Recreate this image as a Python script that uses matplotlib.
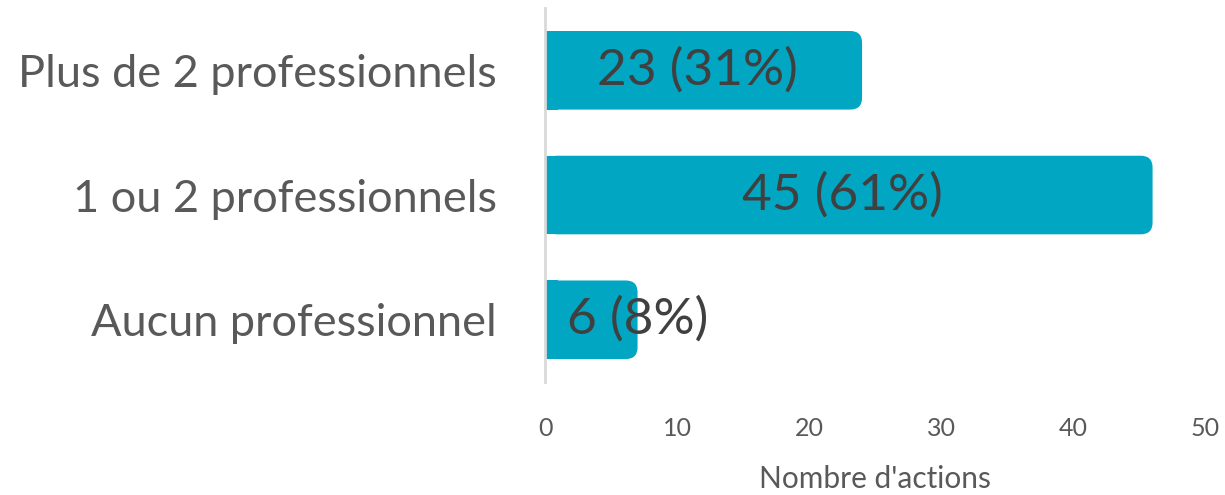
import matplotlib
matplotlib.use("Agg")
import matplotlib.pyplot as plt
from matplotlib.patches import FancyBboxPatch

# data
categories = ["Plus de 2 professionnels", "1 ou 2 professionnels", "Aucun professionnel"]
counts = [23, 45, 6]
percents = [31, 61, 8]

bar_color = "#00A6C2"
text_color = "#404040"
tick_color = "#595959"

plt.rcParams["font.family"] = ["Lato", "DejaVu Sans"]

fig = plt.figure(figsize=(12.25, 4.95), dpi=100)
ax = fig.add_axes([0.445, 0.228, 0.539, 0.756])

ypos = list(range(len(categories)))[::-1]
bar_h = 0.63
cap = 1.0  # rounded end sticks out a bit past the value

for y, v, p in zip(ypos, counts, percents):
    bb = FancyBboxPatch((0, y - bar_h / 2), v + cap, bar_h,
                        boxstyle="round,pad=0,rounding_size=0.9",
                        mutation_aspect=0.105,
                        facecolor=bar_color, edgecolor="none")
    ax.add_patch(bb)
    # square off the left side
    ax.barh(y, 1.0, height=bar_h, left=0, color=bar_color)
    lab = f"{v} ({p}%)"
    if v > 10:
        ax.text(v / 2, y, lab, ha="center", va="center", fontsize=37, color=text_color)
    else:
        ax.text(v + cap, y, lab, ha="center", va="center", fontsize=37, color=text_color)

ax.set_xlim(0, 50)
ax.set_ylim(-0.5, 2.5)
ax.set_yticks(ypos)
ax.set_yticklabels(categories, fontsize=32.5, color=tick_color)
ax.set_xticks([0, 10, 20, 30, 40, 50])
ax.tick_params(axis="x", labelsize=18, colors=tick_color, length=0, pad=25)
ax.tick_params(axis="y", length=0, pad=35)
ax.set_xlabel("Nombre d'actions", fontsize=21.5, color=tick_color, labelpad=18)

for s in ["top", "right", "bottom"]:
    ax.spines[s].set_visible(False)
ax.spines["left"].set_color("#D9D9D9")
ax.spines["left"].set_linewidth(2)
ax.spines["left"].set_zorder(5)

fig.savefig("out.png", dpi=100)
